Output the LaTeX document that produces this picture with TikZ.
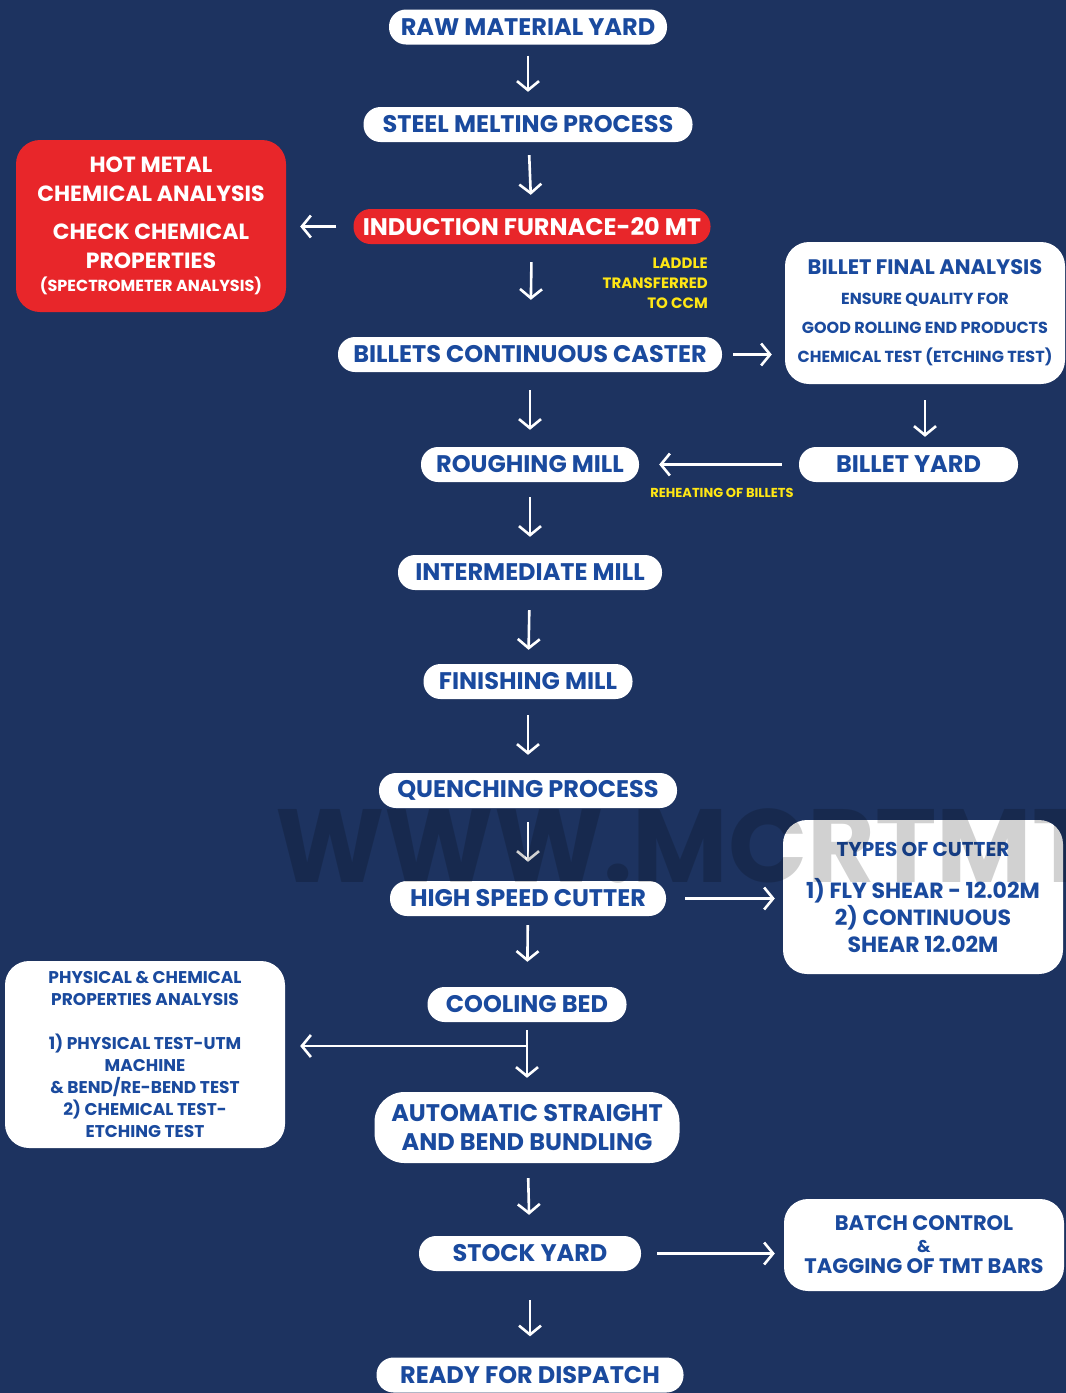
\documentclass[tikz,border=0pt]{standalone}
\usepackage{fontspec}
\setmainfont{Poppins}
\usetikzlibrary{arrows.meta}

\definecolor{navy}{RGB}{29,51,96}
\definecolor{stageblue}{RGB}{26,74,158}
\definecolor{alertred}{RGB}{232,38,42}
\definecolor{noteyellow}{RGB}{255,230,20}

\tikzset{
  stage/.style={fill=white, rounded corners=17pt, minimum height=35pt, inner sep=0pt,
    text=stageblue, font=\bfseries\fontsize{24}{29}\selectfont},
  panel/.style={fill=white, rounded corners=24pt, minimum width=280pt, inner sep=0pt,
    align=center, text=stageblue},
  flow/.style={white, line width=2.6pt, -{Straight Barb[length=9pt,width=22pt]}},
  note/.style={text=noteyellow, inner sep=0pt}
}

\begin{document}
\begin{tikzpicture}[x=1pt, y=-1pt]
    % Background
    \fill[navy] (0,0) rectangle (1066,1393);
    \useasboundingbox (0,0) rectangle (1066,1393);

    % Main line of stages
    \node[stage, minimum width=278pt] (raw) at (528,27) {RAW MATERIAL YARD};
    \node[stage, minimum width=329pt] (melt) at (528,124.5) {STEEL MELTING PROCESS};
    \node[stage, minimum width=357pt, fill=alertred, text=white] (furnace) at (532,226.5) {INDUCTION FURNACE-20 MT};
    \node[stage, minimum width=384pt] (caster) at (530,354.5) {BILLETS CONTINUOUS CASTER};
    \node[stage, minimum width=218pt] (rough) at (530,464.5) {ROUGHING MILL};
    \node[stage, minimum width=264pt] (inter) at (530,572.5) {INTERMEDIATE MILL};
    \node[stage, minimum width=209pt] (finish) at (528,681.5) {FINISHING MILL};
    \node[stage, minimum width=298pt] (quench) at (528,790.5) {QUENCHING PROCESS};
    \node[stage, minimum width=276pt] (cutter) at (528,898.5) {HIGH SPEED CUTTER};
    \node[stage, minimum width=199pt] (cooling) at (527,1004.5) {COOLING BED};
    \node[stage, minimum width=305pt, minimum height=71pt, rounded corners=30pt, align=center] (bundle) at (527,1127.5)
        {AUTOMATIC STRAIGHT\\AND BEND BUNDLING};
    \node[stage, minimum width=222pt] (stock) at (530,1253.5) {STOCK YARD};
    \node[stage, minimum width=307pt] (dispatch) at (530,1375) {READY FOR DISPATCH};

    % Side stage
    \node[stage, minimum width=219pt] (billetyard) at (908.5,464.5) {BILLET YARD};

    % Checks beside the line
    \node[panel, fill=alertred, text=white, minimum width=270pt, minimum height=172pt,
        font=\bfseries\fontsize{22}{29}\selectfont] (hotmetal) at (151,226) {%
        HOT METAL\\CHEMICAL ANALYSIS\\[9pt]
        CHECK CHEMICAL\\PROPERTIES\\[-6pt]
        {\fontsize{16}{23}\selectfont (SPECTROMETER ANALYSIS)}};
    \node[panel, minimum height=142pt, font=\bfseries\fontsize{16}{29}\selectfont] (finalcheck) at (925,313) {%
        {\fontsize{21}{29}\selectfont BILLET FINAL ANALYSIS}\\[1pt]
        ENSURE QUALITY FOR\\GOOD ROLLING END PRODUCTS\\CHEMICAL TEST (ETCHING TEST)};
    \node[panel, minimum height=154pt, font=\bfseries\fontsize{22}{27}\selectfont] (cuttertypes) at (923,897) {%
        {\fontsize{20}{27}\selectfont TYPES OF CUTTER}\\[15pt]
        1) FLY SHEAR - 12.02M\\2) CONTINUOUS\\SHEAR 12.02M};
    \node[panel, minimum height=187pt, font=\bfseries\fontsize{17}{22}\selectfont] (labtest) at (145,1054.5) {%
        PHYSICAL \& CHEMICAL\\PROPERTIES ANALYSIS\\[22pt]
        1) PHYSICAL TEST-UTM\\MACHINE\\\& BEND/RE-BEND TEST\\
        2) CHEMICAL TEST-\\ETCHING TEST};
    \node[panel, minimum height=92pt, font=\bfseries\fontsize{21}{21.5}\selectfont] (batch) at (924,1245) {%
        BATCH CONTROL\\{\fontsize{17}{21.5}\selectfont\&}\\TAGGING OF TMT BARS};

    % Yellow notes
    \node[note, anchor=east, align=right, font=\bfseries\fontsize{15}{20}\selectfont] (laddle) at (708,283)
        {LADDLE\\TRANSFERRED\\TO CCM};
    \node[note, font=\bfseries\fontsize{13}{16}\selectfont] (reheat) at (722,493) {REHEATING OF BILLETS};

    % Arrows down the line
    \foreach \a/\b/\s/\e in {raw/melt/11/15, melt/furnace/13/14, furnace/caster/18/37,
        caster/rough/18/17, rough/inter/15/18, inter/finish/20/14, finish/quench/16/18,
        quench/cutter/14/19, cutter/cooling/9/25, cooling/bundle/8/14,
        bundle/stock/15/21, stock/dispatch/29/21}{
        \draw[flow, shorten <=\s pt, shorten >=\e pt] (\a) -- (\b);
    }

    % Arrows to the side
    \draw[flow, shorten <=17pt, shorten >=14pt] (furnace.west) -- (hotmetal.east |- furnace.west);
    \draw[flow, shorten <=11pt, shorten >=13pt] (caster.east) -- (caster.east -| finalcheck.west);
    \draw[flow, shorten <=16pt, shorten >=10pt] (finalcheck.south) -- (finalcheck.south |- billetyard.north);
    \draw[flow, shorten <=17pt, shorten >=20pt] (billetyard) -- (rough);
    \draw[flow, shorten <=19pt, shorten >=8pt] (cutter.east) -- (cutter.east -| cuttertypes.west);
    \coordinate (split) at (527,1046);
    \draw[flow, shorten >=15pt] (split) -- (split -| labtest.east);
    \draw[flow, shorten <=16pt, shorten >=9pt] (stock.east) -- (stock.east -| batch.west);

    % Watermark
    \node[anchor=base west, inner sep=0pt, text=black, text opacity=0.18,
        font=\bfseries\fontsize{104}{104}\selectfont] (mark) at (275,882) {WWW.MCRTMT};
\end{tikzpicture}
\end{document}
